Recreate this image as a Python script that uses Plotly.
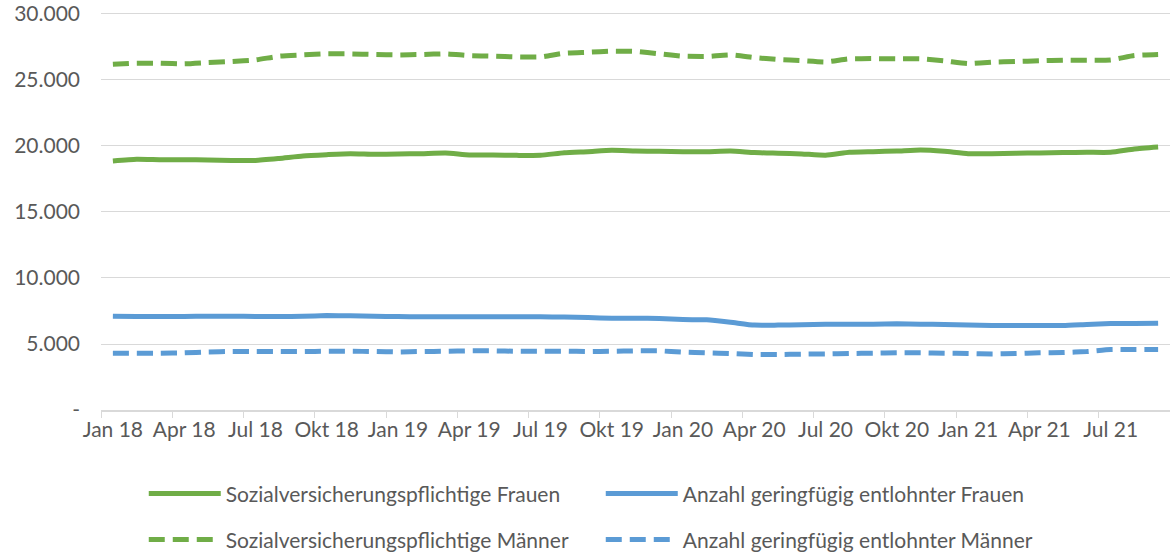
import plotly.graph_objects as go

months_de = ["Jan", "Feb", "Mär", "Apr", "Mai", "Jun", "Jul", "Aug", "Sep", "Okt", "Nov", "Dez"]
categories = [f"{m} {y}" for y in ["18", "19", "20", "21"] for m in months_de][:45]

svp_frauen = [18860, 18990, 18960, 18960, 18940, 18910, 18910, 19060, 19240, 19340,
              19420, 19370, 19390, 19420, 19470, 19320, 19320, 19290, 19290, 19490,
              19570, 19670, 19620, 19600, 19570, 19570, 19620, 19500, 19450, 19400,
              19300, 19520, 19570, 19620, 19700, 19600, 19420, 19420, 19450, 19470,
              19500, 19520, 19520, 19770, 19920]
svp_maenner = [26190, 26270, 26270, 26220, 26320, 26400, 26520, 26800, 26900, 26980,
               26980, 26930, 26900, 26930, 26980, 26850, 26800, 26750, 26750, 27030,
               27100, 27180, 27160, 26980, 26800, 26780, 26900, 26700, 26550, 26470,
               26370, 26600, 26620, 26600, 26600, 26450, 26240, 26350, 26400, 26450,
               26500, 26500, 26520, 26850, 26930]
gf_frauen = [7100, 7080, 7080, 7090, 7100, 7100, 7090, 7080, 7100, 7150,
             7140, 7100, 7080, 7060, 7060, 7070, 7070, 7060, 7060, 7040,
             7000, 6950, 6950, 6930, 6850, 6830, 6650, 6430, 6430, 6450,
             6500, 6500, 6500, 6530, 6500, 6480, 6430, 6400, 6400, 6400,
             6400, 6480, 6550, 6550, 6580]
gf_maenner = [4300, 4300, 4300, 4330, 4400, 4430, 4430, 4430, 4430, 4450,
              4450, 4430, 4400, 4430, 4450, 4480, 4480, 4450, 4450, 4460,
              4430, 4450, 4480, 4480, 4380, 4330, 4280, 4200, 4200, 4230,
              4250, 4280, 4300, 4330, 4330, 4300, 4280, 4250, 4280, 4330,
              4350, 4430, 4580, 4580, 4580]

y_ticks = [0, 5000, 10000, 15000, 20000, 25000, 30000]
y_labels = ["-", "5.000", "10.000", "15.000", "20.000", "25.000", "30.000"]

GREEN = "#70AD47"
BLUE = "#5B9BD5"
FONT = "Lato"
TXT = "#595959"
FS = 21

fig = go.Figure()
common = dict(mode="lines", line_shape="spline")
fig.add_trace(go.Scatter(x=categories, y=svp_frauen, name="Sozialversicherungspflichtige Frauen",
                         line=dict(color=GREEN, width=5, smoothing=0.5), legend="legend", **common))
fig.add_trace(go.Scatter(x=categories, y=gf_frauen, name="Anzahl geringfügig entlohnter Frauen",
                         line=dict(color=BLUE, width=5, smoothing=0.5), legend="legend", **common))
fig.add_trace(go.Scatter(x=categories, y=svp_maenner, name="Sozialversicherungspflichtige Männer",
                         line=dict(color=GREEN, width=5, dash="16px,8px", smoothing=0.5), legend="legend2", **common))
fig.add_trace(go.Scatter(x=categories, y=gf_maenner, name="Anzahl geringfügig entlohnter Männer",
                         line=dict(color=BLUE, width=5, dash="16px,8px", smoothing=0.5), legend="legend2", **common))

leg_common = dict(orientation="h", xanchor="left", yanchor="middle", x=0.04,
                  entrywidth=370, entrywidthmode="pixels", itemwidth=72,
                  font=dict(family=FONT, size=FS, color=TXT), bgcolor="rgba(0,0,0,0)")

fig.update_layout(
    width=1170, height=555,
    margin=dict(l=101, r=0, t=12, b=145, autoexpand=False),
    paper_bgcolor="white", plot_bgcolor="white",
    font=dict(family=FONT, size=FS, color=TXT),
    showlegend=True,
    legend=dict(y=-0.2105, **leg_common),
    legend2=dict(y=-0.326, **leg_common),
    xaxis=dict(type="category", dtick=3, tickson="boundaries", ticks="outside", ticklen=6,
               tickangle=0, automargin=False,
               tickcolor="#d9d9d9", showline=True, linecolor="#d9d9d9", linewidth=1.5,
               showgrid=False, tickfont=dict(family=FONT, size=FS, color=TXT),
               range=[-0.5, 44.5]),
    yaxis=dict(range=[0, 30150], tickvals=y_ticks, ticktext=y_labels, showgrid=True,
               automargin=False, ticklabeloverflow="allow",
               gridcolor="#d9d9d9", gridwidth=1, zeroline=False, showline=False,
               ticklabelstandoff=20, tickfont=dict(family=FONT, size=FS, color=TXT)),
)

fig.write_html("out.html", config={"displayModeBar": False},
               post_script="document.body.style.margin='0';")
